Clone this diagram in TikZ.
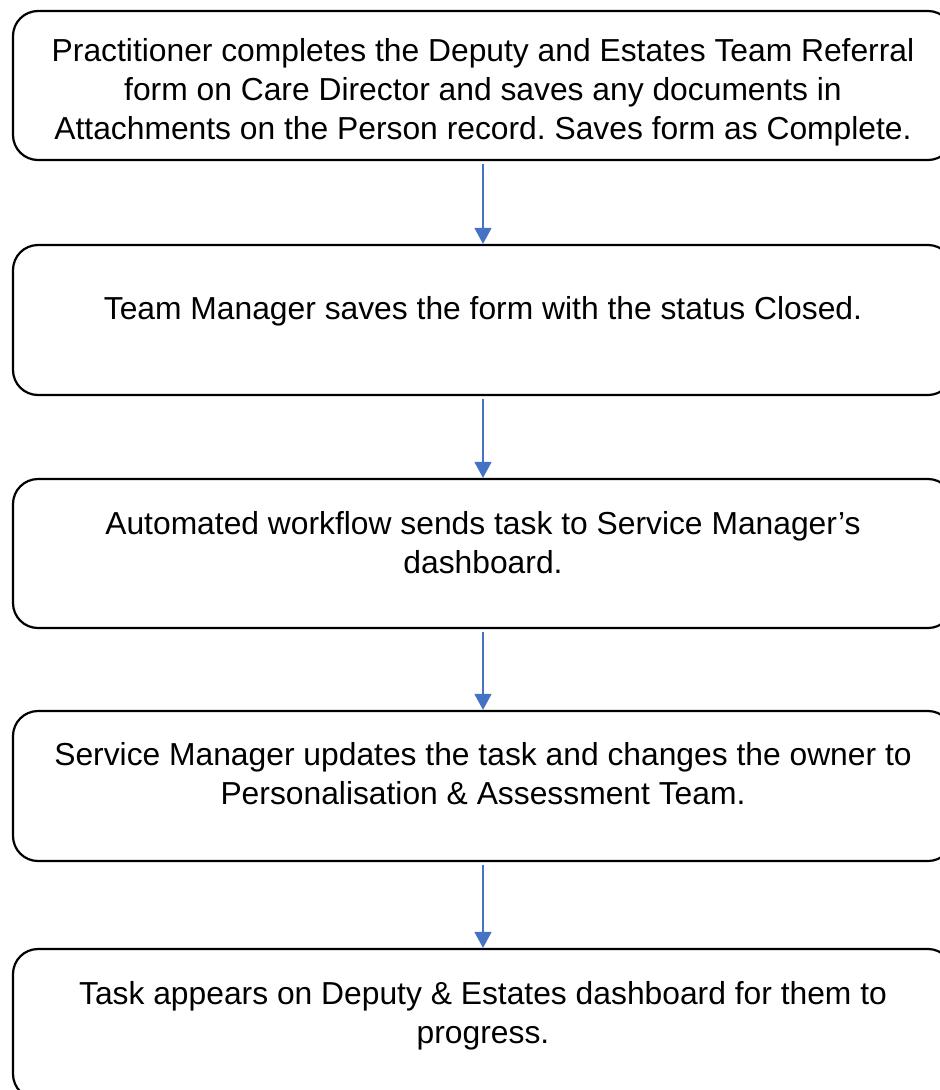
\documentclass[tikz,border=0pt]{standalone}
\usepackage{fontspec}
\setmainfont{Liberation Sans}
\usepackage{tikz}
\usepackage{xcolor}
\usetikzlibrary{arrows.meta,positioning}

\definecolor{flowblue}{HTML}{4472C4}
\frenchspacing

\tikzset{
    stepbox/.style={draw, line width=2.2pt, rounded corners=25pt,
        minimum width=940pt, minimum height=150pt, inner sep=0pt},
    steptext/.style={inner sep=0pt, align=center,
        font=\fontsize{31.8}{39}\selectfont},
    flowarrow/.style={draw=flowblue, line width=1.4pt, shorten <=3pt,
        -{Triangle[width=17pt,length=16pt]}, flowblue}
}

\begin{document}
\begin{tikzpicture}[x=1pt,y=1pt]
\useasboundingbox (0,0) rectangle (940,-1090);

% the five boxes of the flow
\node[stepbox, minimum height=149pt] (b1) at (483,-85.5) {};
\node[stepbox] (b2) at (483,-320) {};
\node[stepbox, minimum height=149pt] (b3) at (483,-553.5) {};
\node[stepbox] (b4) at (483,-786) {};
\node[stepbox] (b5) at (483,-1024) {};

% texts sit near the top of each box
\node[steptext, below=28pt of b1.north] (t1) {Practitioner completes the Deputy and Estates Team Referral\\
    form on Care Director and saves any documents in\\
    Attachments on the Person record. Saves form as Complete.};
\node[steptext, below=52pt of b2.north] (t2) {Team Manager saves the form with the status Closed.};
\node[steptext, below=33pt of b3.north] (t3) {Automated workflow sends task to Service Manager’s\\
    dashboard.};
\node[steptext, below=32pt of b4.north] (t4) {Service Manager updates the task and changes the owner to\\
    Personalisation \& Assessment Team.};
\node[steptext, below=33pt of b5.north] (t5) {Task appears on Deputy \& Estates dashboard for them to\\
    progress.};

% arrows between the boxes
\foreach \a/\b in {b1/b2,b2/b3,b3/b4,b4/b5}{
    \draw[flowarrow] (\a.south) -- (\b.north);
}
\end{tikzpicture}
\end{document}
